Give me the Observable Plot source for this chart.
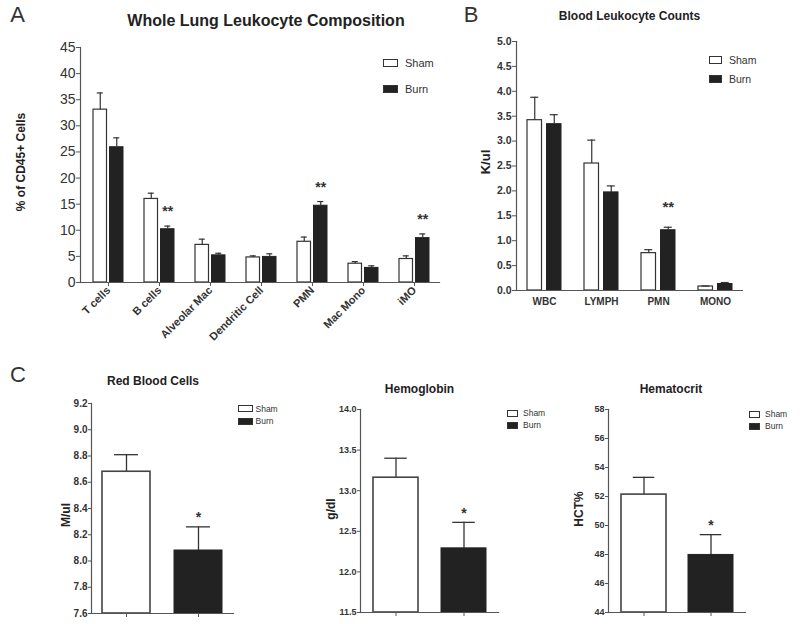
<!DOCTYPE html>
<html><head><meta charset="utf-8">
<script src="https://cdn.jsdelivr.net/npm/d3@7"></script>
<script src="https://cdn.jsdelivr.net/npm/@observablehq/plot@0.6"></script>
<style>
html,body{margin:0;padding:0;background:#fff;}
#fig{position:relative;width:800px;height:624px;overflow:hidden;font-family:"Liberation Sans",Arial,sans-serif;color:#222;background:#fff;}
#fig svg{position:absolute;background:transparent;}
.lbl{position:absolute;white-space:nowrap;line-height:1;}
.box{position:absolute;box-sizing:border-box;}
</style></head><body><div id="fig"></div>
<script>
// ---------- Panel A: Whole Lung Leukocyte Composition ----------
const categoriesA = ["T cells","B cells","Alveolar Mac","Dendritic Cell","PMN","Mac Mono","iMO"];
const shamA    = [33.1, 16.0, 7.2, 4.8, 7.8, 3.6, 4.5];
const shamErrA = [3.2, 1.1, 1.1, 0.3, 0.9, 0.4, 0.6];
const burnA    = [25.9, 10.2, 5.2, 4.9, 14.7, 2.8, 8.5];
const burnErrA = [1.8, 0.6, 0.4, 0.6, 0.8, 0.4, 0.8];
const sigA     = ["", "**", "", "", "**", "", "**"];
const ticksA   = [0,5,10,15,20,25,30,35,40,45];

// ---------- Panel B: Blood Leukocyte Counts ----------
const categoriesB = ["WBC","LYMPH","PMN","MONO"];
const shamB    = [3.42, 2.55, 0.75, 0.08];
const shamErrB = [0.46, 0.47, 0.07, 0.01];
const burnB    = [3.34, 1.97, 1.21, 0.13];
const burnErrB = [0.19, 0.13, 0.06, 0.03];
const sigB     = ["", "", "**", ""];
const ticksB   = [0,0.5,1,1.5,2,2.5,3,3.5,4,4.5,5];

// ---------- Panel C ----------
const groupsC = ["Sham","Burn"];
const rbcMean = [8.68, 8.08], rbcErr = [0.13, 0.18], rbcSig = ["", "*"];
const rbcTicks = [7.6,7.8,8.0,8.2,8.4,8.6,8.8,9.0,9.2];
const hgbMean = [13.16, 12.29], hgbErr = [0.24, 0.32], hgbSig = ["", "*"];
const hgbTicks = [11.5,12.0,12.5,13.0,13.5,14.0];
const hctMean = [52.13, 47.97], hctErr = [1.19, 1.40], hctSig = ["", "*"];
const hctTicks = [44,46,48,50,52,54,56,58];

const fig = document.getElementById("fig");
const FONT = '"Liberation Sans", Arial, sans-serif';
const AX = "#555", BAR = "#333", DARK = "#222";

function mount(svg, left, top) {
  svg.style.left = left + "px";
  svg.style.top = top + "px";
  fig.appendChild(svg);
}
function put(text, x, y, css, anchor = "center", rotate = 0) {
  const el = document.createElement("div");
  el.className = "lbl";
  el.textContent = text;
  Object.assign(el.style, css);
  el.style.left = x + "px";
  el.style.top = y + "px";
  el.style.transform = `translate(${anchor === "center" ? "-50%" : "0"},-50%)` + (rotate ? ` rotate(${rotate}deg)` : "");
  fig.appendChild(el);
}
function legendEntry(label, filled, bx, by, bw, bh, tx, fs) {
  const b = document.createElement("div");
  b.className = "box";
  Object.assign(b.style, {left: bx + "px", top: by + "px", width: bw + "px", height: bh + "px",
    border: "1px solid " + BAR, background: filled ? DARK : "#fff"});
  fig.appendChild(b);
  put(label, tx, by + bh / 2, {fontSize: fs + "px", color: "#333"}, "left");
}

// grouped panel builder (A and B)
function grouped({cats, sham, se, burn, be, sig, width, height, mL, mR, mT, mB, range, padding,
                  yDomain, ticks, fmt, tickFont, tickWeight, catFont, rotate, xTickSize, xTickPad,
                  barW, off, capIn, capOut, sigFont, sigDy}) {
  const rows = cats.map((c, i) => ({cat: c, sham: sham[i], se: se[i], burn: burn[i], be: be[i], sig: sig[i]}));
  const inset = (rangeBw) => rangeBw;
  return Plot.plot({
    width, height, marginLeft: mL, marginRight: mR, marginTop: mT, marginBottom: mB,
    style: {background: "transparent", fontFamily: FONT, color: "#333", overflow: "visible"},
    x: {type: "band", domain: cats, range, paddingInner: padding, paddingOuter: padding / 2, align: 0.5},
    y: {domain: yDomain},
    marks: [
      Plot.barY(rows, {x: "cat", y: "sham", insetRight: barW.inR, fill: "white", stroke: BAR, strokeWidth: 1.2}),
      Plot.barY(rows, {x: "cat", y: "burn", insetLeft: barW.inR, fill: DARK, stroke: DARK, strokeWidth: 1}),
      Plot.ruleX(rows, {x: "cat", y1: "sham", y2: d => d.sham + d.se, dx: -off, stroke: BAR, strokeWidth: 1.2}),
      Plot.tickY(rows, {x: "cat", y: d => d.sham + d.se, insetLeft: capOut, insetRight: capIn, stroke: BAR, strokeWidth: 1.2}),
      Plot.ruleX(rows, {x: "cat", y1: "burn", y2: d => d.burn + d.be, dx: off, stroke: BAR, strokeWidth: 1.2}),
      Plot.tickY(rows, {x: "cat", y: d => d.burn + d.be, insetLeft: capIn, insetRight: capOut, stroke: BAR, strokeWidth: 1.2}),
      Plot.text(rows.filter(d => d.sig), {x: "cat", y: d => d.burn + d.be, text: "sig", dx: off, dy: sigDy,
        fontSize: sigFont, fontWeight: "bold", fill: "#333"}),
      Plot.frame({anchor: "left", stroke: AX, strokeWidth: 1.2}),
      Plot.frame({anchor: "bottom", stroke: AX, strokeWidth: 1.2}),
      Plot.axisY({ticks, tickFormat: fmt, tickSize: 4, tickPadding: 1, fontSize: tickFont, fontWeight: tickWeight,
        label: null, stroke: AX, fill: "#333"}),
      Plot.axisX({tickSize: xTickSize, tickPadding: xTickPad, tickRotate: rotate, fontSize: catFont,
        fontWeight: "bold", label: null, stroke: AX, fill: "#333"})
    ]
  });
}

// Panel A
mount(grouped({
  cats: categoriesA, sham: shamA, se: shamErrA, burn: burnA, be: burnErrA, sig: sigA,
  width: 445, height: 370, mL: 80, mR: 6, mT: 47, mB: 88,
  range: [81.3, 441.1], padding: 0.416, yDomain: [0, 45], ticks: ticksA, fmt: d3.format("d"),
  tickFont: 14, tickWeight: "normal", catFont: 11, rotate: -45, xTickSize: 4, xTickPad: 2,
  barW: {inR: 16.5}, off: 8.25, capIn: 20.25, capOut: 3.75, sigFont: 14, sigDy: -14.5
}), 0, 0);

// Panel B
mount(grouped({
  cats: categoriesB, sham: shamB, se: shamErrB, burn: burnB, be: burnErrB, sig: sigB,
  width: 380, height: 370, mL: 96, mR: 58, mT: 41, mB: 80,
  range: [95.5, 323.5], padding: 0.4035, yDomain: [0, 5], ticks: ticksB, fmt: d3.format(".1f"),
  tickFont: 10.5, tickWeight: "bold", catFont: 10, rotate: 0, xTickSize: 0, xTickPad: 7,
  barW: {inR: 19.5}, off: 9.75, capIn: 22.75, capOut: 3.25, sigFont: 15, sigDy: -20
}), 420, 0);

// Panel C builder
function twoBar({mean, err, sig, ticks, fmt, width, mL, mR, mT, mB, range, padding, bw, cap, tickFont}) {
  const rows = groupsC.map((g, i) => ({g, v: mean[i], e: err[i], s: sig[i]}));
  const y0 = ticks[0];
  const capInset = (bw - cap) / 2;
  return Plot.plot({
    width, height: 264, marginLeft: mL, marginRight: mR, marginTop: mT, marginBottom: mB,
    style: {background: "transparent", fontFamily: FONT, color: "#333", overflow: "visible"},
    x: {type: "band", domain: groupsC, range, paddingInner: padding, paddingOuter: padding / 2, align: 0.5},
    y: {domain: [ticks[0], ticks[ticks.length - 1]]},
    marks: [
      Plot.ruleX(rows, {x: "g", y1: "v", y2: d => d.v + d.e, stroke: BAR, strokeWidth: 1.3}),
      Plot.tickY(rows, {x: "g", y: d => d.v + d.e, insetLeft: capInset, insetRight: capInset, stroke: BAR, strokeWidth: 1.3}),
      Plot.barY(rows.filter(d => d.g === "Sham"), {x: "g", y1: () => y0, y2: "v", fill: "white", stroke: "#444", strokeWidth: 1.6}),
      Plot.barY(rows.filter(d => d.g === "Burn"), {x: "g", y1: () => y0, y2: "v", fill: DARK, stroke: DARK, strokeWidth: 1}),
      Plot.text(rows.filter(d => d.s), {x: "g", y: d => d.v + d.e, text: "s", dy: -9, fontSize: 14, fontWeight: "bold", fill: "#333"}),
      Plot.frame({anchor: "left", stroke: AX, strokeWidth: 1.2}),
      Plot.frame({anchor: "bottom", stroke: AX, strokeWidth: 1.2}),
      Plot.axisY({ticks, tickFormat: fmt, tickSize: 3, tickPadding: 1, fontSize: tickFont, fontWeight: "bold",
        label: null, stroke: AX, fill: "#333"}),
      Plot.axisX({tickSize: 4, tickFormat: () => "", label: null, stroke: AX})
    ]
  });
}

mount(twoBar({mean: rbcMean, err: rbcErr, sig: rbcSig, ticks: rbcTicks, fmt: d3.format(".1f"),
  width: 265, mL: 91, mR: 32, mT: 43, mB: 11, range: [90, 234], padding: 0.333, bw: 48, cap: 24, tickFont: 10}), 0, 360);
mount(twoBar({mean: hgbMean, err: hgbErr, sig: hgbSig, ticks: hgbTicks, fmt: d3.format(".1f"),
  width: 265, mL: 90, mR: 37, mT: 49, mB: 12, range: [91.1, 228.3], padding: 0.337, bw: 45.5, cap: 23, tickFont: 9}), 270, 360);
mount(twoBar({mean: hctMean, err: hctErr, sig: hctSig, ticks: hctTicks, fmt: d3.format("d"),
  width: 270, mL: 78, mR: 55, mT: 49, mB: 12, range: [79.6, 214.8], padding: 0.327, bw: 45.5, cap: 22, tickFont: 9}), 530, 360);

// ---------- Text: panel letters, titles, axis labels, legends ----------
const letter = {fontSize: "22px", color: "#333"};
put("A", 17.5, 15, letter);
put("B", 471, 15, letter);
put("C", 18, 375, letter);

put("Whole Lung Leukocyte Composition", 266, 21, {fontSize: "16px", fontWeight: "bold", color: "#222"});
put("Blood Leukocyte Counts", 629.5, 16, {fontSize: "12px", fontWeight: "bold", color: "#222"});
put("Red Blood Cells", 153, 381, {fontSize: "12px", fontWeight: "bold", color: "#222"});
put("Hemoglobin", 419.5, 389, {fontSize: "12px", fontWeight: "bold", color: "#222"});
put("Hematocrit", 671, 388.5, {fontSize: "12px", fontWeight: "bold", color: "#222"});

const ylab = {fontSize: "12px", fontWeight: "bold", color: "#222"};
put("% of CD45+ Cells", 21, 162, ylab, "center", -90);
put("K/ul", 485, 162, {...ylab, fontSize: "13px"}, "center", -90);
put("M/ul", 66, 515, ylab, "center", -90);
put("g/dl", 331, 509, ylab, "center", -90);
put("HCT%", 579, 509, ylab, "center", -90);

legendEntry("Sham", false, 383, 59, 15, 8, 405, 11);
legendEntry("Burn", true, 383, 85, 15, 8, 405, 11);
legendEntry("Sham", false, 709, 56, 13, 8, 729, 10.5);
legendEntry("Burn", true, 709, 75, 13, 8, 729, 10.5);
legendEntry("Sham", false, 238, 405, 15, 7, 255.5, 8.5);
legendEntry("Burn", true, 238, 417.5, 15, 7, 255.5, 8.5);
legendEntry("Sham", false, 507, 409.5, 11, 7, 523, 8.5);
legendEntry("Burn", true, 507, 421.5, 11, 7, 523, 8.5);
legendEntry("Sham", false, 749, 410.5, 11, 7, 765, 8.5);
legendEntry("Burn", true, 749, 422.5, 11, 7, 765, 8.5);
</script>
</body></html>
